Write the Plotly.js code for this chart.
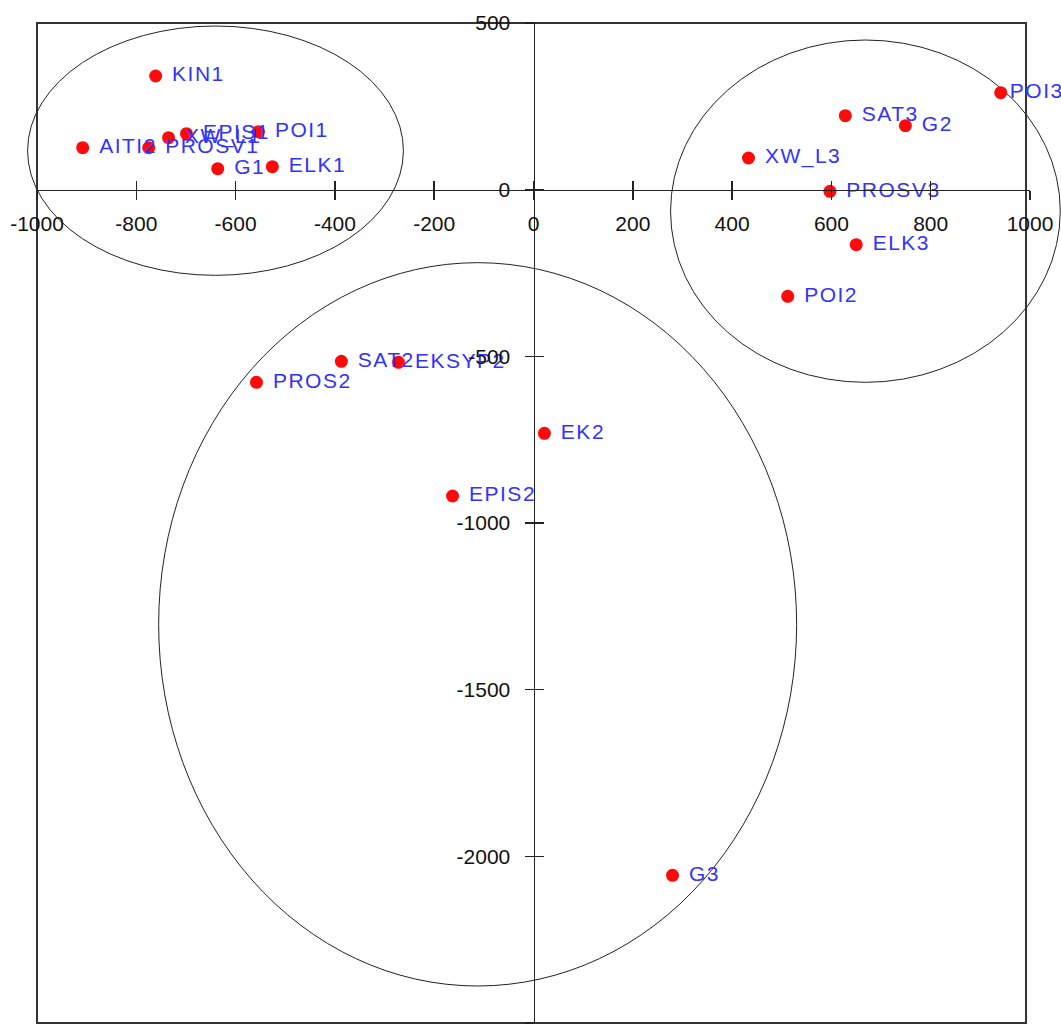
<!DOCTYPE html>
<html>
<head>
<meta charset="utf-8">
<script src="https://cdn.plot.ly/plotly-3.0.1.min.js"></script>
<style>
html,body{margin:0;padding:0;background:#fff;}
#chart .textpoint text{letter-spacing:1.5px;}
</style>
</head>
<body>
<div id="chart" style="width:1061px;height:1032px;"></div>
<script>
// ---- data ----
const pointLabels = ['KIN1','AITI2','PROSV1','XW_L1','EPIS1','POI1','G1','ELK1',
  'SAT3','G2','POI3','XW_L3','PROSV3','ELK3','POI2',
  'SAT2','EKSYP2','PROS2','EK2','EPIS2','G3'];
const xValues = [-761,-908,-775,-735,-699,-554,-636,-526,
  628,749,941,433,597,650,512,
  -387,-272,-558,22,-163,280];
const yValues = [341,126,126,156,168,174,63,69,
  222,192,291,95,-5,-165,-320,
  -515,-518,-578,-731,-919,-2057];
const xTicks = [-1000,-800,-600,-400,-200,0,200,400,600,800,1000];
const yTicks = [500,0,-500,-1000,-1500,-2000,-2500];
const xRange = [-1000, 1000];
const yRange = [-2500, 500];
// group ellipses (data units): [xmin, xmax, ymin, ymax]
const ellipse1 = [-1019, -262, -257, 491];
const ellipse2 = [-755, 530, -2389, -219];
const ellipse3 = [276, 1061, -578, 449];

// ---- helpers ----
const px = v => (v - xRange[0]) / (xRange[1] - xRange[0]);
const py = v => (v - yRange[0]) / (yRange[1] - yRange[0]);
const ellShape = e => ({type:'circle', xref:'paper', yref:'paper', layer:'below',
  x0: px(e[0]), x1: px(e[1]), y0: py(e[2]), y1: py(e[3]),
  line:{color:'#222', width:1}});

const tickFont = {family:'Liberation Sans, Arial, sans-serif', size:21, color:'#111'};
// labels near the right border are pulled in (as in the original)
const shownText = pointLabels.map((s, i) => (xValues[i] > 900 ? '' : '\u00a0') + s);

const traces = [
  {type:'scatter', mode:'markers+text', x:xValues, y:yValues,
   text: shownText,
   textposition:'middle right',
   textfont:{family:'Liberation Sans, Arial, sans-serif', size:21, color:'rgb(50,50,255)'},
   marker:{color:'#ff0a0a', size:13, line:{width:0}},
   cliponaxis:false, hoverinfo:'skip'},
  {type:'scatter', mode:'markers', x:[], y:[], xaxis:'x2', yaxis:'y2', hoverinfo:'skip'}
];

const layout = {
  width:1061, height:1032,
  margin:{l:37, r:31, t:23, b:9},
  paper_bgcolor:'#fff', plot_bgcolor:'rgba(0,0,0,0)',
  showlegend:false,
  xaxis:{range:xRange, tickvals:xTicks, ticktext:xTicks.map(String),
    ticks:'outside', ticklen:9, tickwidth:1.5, tickcolor:'#222',
    showline:true, linecolor:'#222', linewidth:1.5,
    showgrid:false, zeroline:false, anchor:'free', position:py(0),
    tickfont:tickFont, ticklabelstandoff:6},
  yaxis:{range:yRange, tickvals:yTicks, ticktext:yTicks.map(String),
    ticks:'outside', ticklen:9, tickwidth:1.5, tickcolor:'#222',
    showline:true, linecolor:'#222', linewidth:1.5,
    showgrid:false, zeroline:false, anchor:'free', position:px(0),
    tickfont:tickFont, ticklabelstandoff:10},
  xaxis2:{range:xRange, tickvals:xTicks, overlaying:'x', anchor:'free', position:py(0),
    ticks:'inside', ticklen:9, tickwidth:1.5, tickcolor:'#222',
    showticklabels:false, showline:false, showgrid:false, zeroline:false},
  yaxis2:{range:yRange, tickvals:yTicks, overlaying:'y', anchor:'free', position:px(0),
    ticks:'inside', ticklen:9, tickwidth:1.5, tickcolor:'#222',
    showticklabels:false, showline:false, showgrid:false, zeroline:false},
  shapes:[
    {type:'rect', xref:'paper', yref:'paper', x0:0, x1:0.996, y0:0, y1:1,
     line:{color:'#333', width:2}, layer:'below'},
    ellShape(ellipse1), ellShape(ellipse2), ellShape(ellipse3)
  ]
};

Plotly.newPlot('chart', traces, layout, {displayModeBar:false, staticPlot:true});
</script>
</body>
</html>
